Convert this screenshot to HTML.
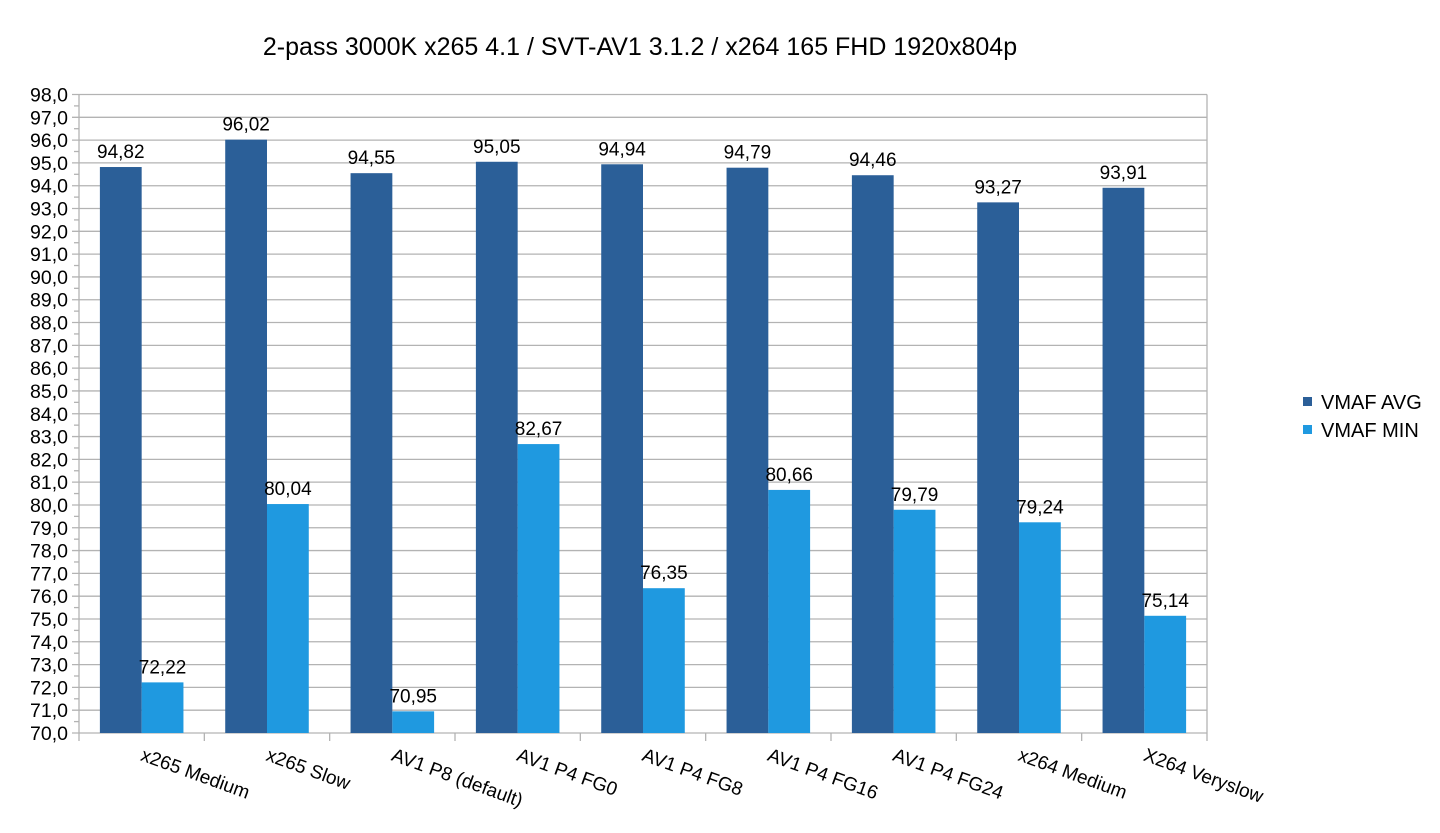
<!DOCTYPE html>
<html><head><meta charset="utf-8"><style>
html,body{margin:0;padding:0;background:#fff;}
svg{display:block;font-family:"Liberation Sans",sans-serif;}
</style></head><body>
<svg id="chart" width="1440" height="833" xmlns="http://www.w3.org/2000/svg">
<text x="640" y="55" font-size="25" text-anchor="middle">2-pass 3000K x265 4.1 / SVT-AV1 3.1.2 / x264 165 FHD 1920x804p</text>
<g id="grid"></g><g id="bars"></g><g id="axes"></g>
<g>
<rect x="1303" y="397" width="9" height="9" fill="#2b5f98"/>
<text x="1321" y="409" font-size="20">VMAF AVG</text>
<rect x="1303" y="425" width="9" height="9" fill="#1f99e0"/>
<text x="1321" y="437" font-size="20">VMAF MIN</text>
</g>
</svg>
<script>
const categories=["x265 Medium","x265 Slow","AV1 P8 (default)","AV1 P4 FG0","AV1 P4 FG8","AV1 P4 FG16","AV1 P4 FG24","x264 Medium","X264 Veryslow"];
const avgValues=[94.82,96.02,94.55,95.05,94.94,94.79,94.46,93.27,93.91];
const minValues=[72.22,80.04,70.95,82.67,76.35,80.66,79.79,79.24,75.14];
const yMin=70, yMax=98, yStep=1;
const X0=79,X1=1207,Y0=733,Y1=94.5;
const NS="http://www.w3.org/2000/svg";
const cw=(X1-X0)/categories.length;
function y(v){return Y0-(v-yMin)/(yMax-yMin)*(Y0-Y1);}
function xc(i){return X0+i*cw;}
function mk(tag,attrs,parent){const e=document.createElementNS(NS,tag);for(const k in attrs)e.setAttribute(k,attrs[k]);parent.appendChild(e);return e;}
const grid=document.getElementById('grid'),bars=document.getElementById('bars'),axes=document.getElementById('axes');
for(let v=yMin;v<=yMax+1e-9;v+=yStep){
 const gl=mk('line',{x1:X0-7,x2:X1,y1:y(v),y2:y(v),stroke:'#b3b3b3','stroke-width':1.3},grid);
 
 
 if(v<yMax){const mt=mk('line',{x1:X0-5,x2:X0,y1:y(v+yStep/2),y2:y(v+yStep/2),stroke:'#b3b3b3','stroke-width':1.3},grid);
 
 }
 const t=mk('text',{x:X0-11,y:y(v)+7,'font-size':19.5,'text-anchor':'end'},axes);
 t.textContent=v.toFixed(1).replace('.',',');
 
 
}
const rl=mk('line',{x1:X1,x2:X1,y1:Y1,y2:Y0,stroke:'#b3b3b3','stroke-width':1.3},grid);


const ya=mk('line',{x1:X0,x2:X0,y1:Y1,y2:Y0+8,stroke:'#b3b3b3','stroke-width':1.3},axes);


const bw=cw/3;
categories.forEach((c,i)=>{
 const tk=mk('line',{x1:xc(i+1),x2:xc(i+1),y1:Y0,y2:Y0+8,stroke:'#b3b3b3','stroke-width':1.3},axes);
 
 
 const bx=xc(i)+cw/6;
 const a=mk('rect',{x:bx,y:y(avgValues[i]),width:bw,height:Y0-y(avgValues[i]),fill:'#2b5f98'},bars);
 
 
 const m=mk('rect',{x:bx+bw,y:y(minValues[i]),width:bw,height:Y0-y(minValues[i]),fill:'#1f99e0'},bars);
 
 
 const la=mk('text',{x:bx+bw/2,y:y(avgValues[i])-9,'font-size':19,'text-anchor':'middle'},bars);
 la.textContent=avgValues[i].toFixed(2).replace('.',',');
 
 
 const lm=mk('text',{x:bx+bw*1.5,y:y(minValues[i])-9,'font-size':19,'text-anchor':'middle'},bars);
 lm.textContent=minValues[i].toFixed(2).replace('.',',');
 
 
 const cx=xc(i)+cw/2-2;
 const xl=mk('text',{x:cx,y:760,'font-size':19,transform:`rotate(20 ${cx} 760)`},axes);
 xl.textContent=c;
 
 
});
</script>
</body></html>
